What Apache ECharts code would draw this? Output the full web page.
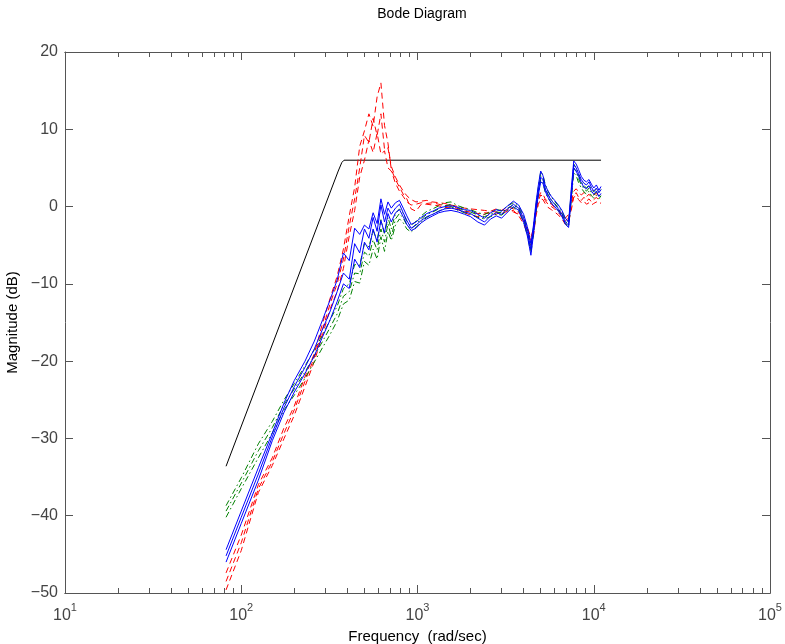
<!DOCTYPE html>
<html>
<head>
<meta charset="utf-8">
<title>Bode Diagram</title>
<script src="https://cdn.jsdelivr.net/npm/echarts@6/dist/echarts.min.js"></script>
<style>
  html, body { margin: 0; padding: 0; background: #fff; }
  #chart { width: 785px; height: 644px; }
</style>
</head>
<body>
<div id="chart"></div>
<script>
// frequency points (rad/sec) shared by all measured curves
var FREQ = [82, 100, 125, 150, 175, 200, 230, 260, 290, 320,
  350, 380, 410, 440, 470, 500, 530, 560, 590, 620,
  650, 680, 710, 750, 790, 830, 870, 920, 980, 1050,
  1130, 1220, 1320, 1430, 1550, 1700, 1850, 2000, 2200, 2400,
  2600, 2800, 3000, 3250, 3500, 3750, 4000, 4200, 4400, 4550,
  4700, 4850, 5000, 5150, 5300, 5500, 5750, 6000, 6300, 6600,
  6900, 7200, 7450, 7700, 7950, 8200, 8500, 8800, 9100, 9400,
  9700, 10000, 10350, 10700, 11000];

// red dashed curves (dB)
var RED_1 = [-49.6, -44.5, -37.0, -33.5, -30.0, -27.0, -23.3, -20.0, -16.5, -13.2,
  -11.0, -8.0, -3.8, -0.5, 3.8, 6.0, 8.6, 7.0, 9.5, 6.8,
  7.2, 5.0, 4.6, 3.0, 2.0, 1.3, 0.6, 0.2, 0.3, 0.5,
  0.4, 0.5, 0.3, 0.1, 0.2, -0.3, -0.6, -0.7, -0.9, -0.8,
  -0.9, -1.0, -0.6, -0.4, -0.7, -1.0, -1.8, -3.0, -4.5, -3.5,
  -0.8, 0.8, 1.5, 1.3, 0.8, 0.3, 0.0, -0.3, -0.8, -1.3,
  -1.8, -1.5, 0.0, 1.5, 1.8, 1.2, 0.8, 1.2, 0.7, 1.0,
  0.6, 0.9, 1.2, 0.8, 1.0];
var RED_2 = [-48.5, -43.5, -36.5, -33.0, -29.3, -26.3, -22.6, -19.5, -15.8, -12.5,
  -10.0, -6.8, -2.5, 1.0, 5.0, 9.2, 8.3, 11.4, 9.2, 12.0,
  7.4, 7.6, 5.2, 3.8, 2.8, 2.0, 1.4, 0.9, 0.6, 0.7,
  0.8, 0.6, 0.5, 0.4, 0.2, 0.0, -0.2, -0.3, -0.4, -0.5,
  -0.6, -0.3, -0.5, 0.0, -0.3, -0.8, -1.5, -2.7, -4.0, -2.8,
  -0.2, 1.2, 1.8, 1.6, 1.0, 0.6, 0.3, -0.1, -0.5, -0.9,
  -1.5, -1.0, 0.5, 2.0, 2.3, 1.9, 1.5, 1.8, 1.3, 1.6,
  1.2, 1.5, 1.7, 1.3, 1.5];
var RED_3 = [-47.4, -42.5, -36.0, -32.5, -28.6, -25.8, -22.0, -19.0, -15.0, -11.8,
  -9.0, -5.5, -1.2, 2.5, 7.8, 9.8, 12.0, 10.4, 14.2, 16.0,
  10.5, 8.2, 4.8, 3.5, 2.5, 1.6, 1.0, -0.3, -0.6, 0.3,
  0.3, 0.2, 0.1, -0.1, -0.2, -0.4, -0.8, -1.1, -1.3, -1.0,
  -0.6, -0.7, -0.9, -0.6, -0.5, -1.2, -2.2, -3.5, -5.0, -3.8,
  -1.2, 0.3, 1.0, 0.9, 0.4, -0.1, -0.4, -0.7, -1.1, -1.6,
  -2.3, -2.0, -0.5, 1.2, 1.4, 0.9, 0.5, 0.7, 0.3, 0.5,
  0.2, 0.4, 0.6, 0.3, 0.5];

// green dash-dot curves (dB)
var GREEN_1 = [-38.7, -35.1, -30.7, -27.8, -25.0, -22.9, -20.6, -18.5, -16.6, -14.6,
  -12.9, -10.6, -10.0, -7.5, -7.6, -4.8, -5.2, -3.1, -4.4, -1.7,
  -3.6, -1.4, -2.9, -0.9, -0.3, -0.9, -1.9, -2.5, -1.9, -1.2,
  -0.6, -0.3, 0.1, 0.5, 0.6, 0.1, -0.2, -0.4, -0.8, -1.0,
  -0.7, -0.4, -0.5, 0.1, 0.5, 0.0, -1.2, -2.9, -5.1, -2.7,
  0.2, 2.5, 4.5, 4.1, 2.9, 2.0, 1.2, 0.7, 0.1, -0.6,
  -1.6, -2.0, 1.8, 5.5, 5.0, 4.1, 3.2, 2.7, 2.4, 2.8,
  2.2, 1.9, 2.3, 1.8, 2.2];
var GREEN_2 = [-39.4, -35.8, -31.6, -28.6, -25.6, -23.6, -21.4, -19.3, -17.4, -15.6,
  -13.9, -11.6, -11.0, -8.6, -8.7, -5.9, -6.4, -4.3, -5.6, -2.9,
  -4.6, -2.2, -3.9, -1.6, -0.9, -1.5, -2.4, -2.9, -2.3, -1.6,
  -1.0, -0.7, -0.3, 0.1, 0.3, -0.2, -0.5, -0.7, -1.1, -1.3,
  -1.0, -0.7, -0.8, -0.2, 0.2, -0.3, -1.6, -3.3, -5.6, -3.2,
  -0.3, 2.0, 4.0, 3.6, 2.4, 1.6, 0.9, 0.4, -0.2, -0.9,
  -1.9, -2.3, 1.2, 5.0, 4.5, 3.6, 2.8, 2.3, 2.0, 2.4,
  1.8, 1.5, 1.9, 1.4, 1.8];
var GREEN_3 = [-40.2, -36.5, -32.5, -29.3, -26.3, -24.4, -22.2, -20.1, -18.2, -16.5,
  -14.8, -12.6, -12.1, -9.7, -9.9, -7.1, -7.6, -5.5, -6.8, -3.9,
  -5.8, -3.2, -4.4, -2.4, -1.6, -2.1, -2.9, -3.3, -2.7, -2.0,
  -1.4, -1.0, -0.6, -0.2, 0.0, -0.5, -0.8, -1.0, -1.4, -1.6,
  -1.3, -1.0, -1.1, -0.5, -0.1, -0.6, -2.0, -3.7, -6.0, -3.6,
  -0.8, 1.5, 3.5, 3.1, 1.9, 1.1, 0.5, 0.0, -0.5, -1.2,
  -2.2, -2.6, 0.7, 4.4, 4.0, 3.1, 2.4, 1.9, 1.6, 2.0,
  1.4, 1.1, 1.5, 1.0, 1.4];

// blue solid curves (dB)
var BLUE_1 = [-46.0, -41.0, -35.4, -30.3, -26.6, -24.0, -21.6, -19.3, -16.8, -14.6,
  -12.3, -10.0, -10.6, -6.8, -7.9, -4.6, -5.6, -2.9, -4.6, -1.8,
  -3.4, -0.9, -2.0, -0.8, -0.4, -1.3, -2.3, -3.1, -2.8, -2.1,
  -1.6, -1.2, -0.8, -0.6, -0.5, -0.7, -1.0, -1.3, -2.0, -2.4,
  -1.6, -1.2, -1.5, -0.7, 0.0, -0.5, -2.0, -3.8, -6.3, -3.6,
  -0.6, 1.5, 3.2, 3.0, 2.0, 1.2, 0.4, 0.0, -0.6, -1.3,
  -2.3, -2.7, 1.0, 5.0, 4.6, 3.9, 3.1, 2.5, 2.3, 2.7,
  2.0, 1.6, 2.0, 1.3, 1.7];
var BLUE_2 = [-45.2, -40.2, -34.6, -29.8, -26.0, -23.3, -20.8, -18.4, -15.8, -13.5,
  -11.0, -8.6, -9.4, -4.8, -6.0, -2.9, -4.1, -1.4, -3.2, 0.2,
  -2.0, -0.2, -1.0, -0.2, 0.3, -0.8, -1.8, -2.8, -2.4, -1.8,
  -1.3, -1.0, -0.6, -0.3, -0.2, -0.4, -0.7, -0.9, -1.5, -2.0,
  -1.2, -0.8, -1.0, -0.3, 0.3, -0.2, -1.5, -3.2, -5.5, -3.0,
  -0.2, 2.0, 3.8, 3.5, 2.3, 1.5, 0.8, 0.3, -0.3, -1.0,
  -2.0, -2.4, 1.5, 5.4, 5.0, 4.3, 3.5, 3.0, 2.8, 3.2,
  2.5, 2.0, 2.4, 1.8, 2.2];
var BLUE_3 = [-44.4, -39.4, -33.8, -29.3, -25.4, -22.5, -20.0, -17.4, -14.6, -12.0,
  -9.5, -6.0, -7.0, -2.8, -3.6, -2.4, -2.9, -0.8, -2.2, 1.0,
  -1.0, 0.6, -0.2, 0.5, 0.8, -0.2, -1.2, -2.3, -2.0, -1.4,
  -0.9, -0.6, -0.2, 0.0, 0.1, -0.1, -0.4, -0.5, -1.0, -1.5,
  -0.8, -0.4, -0.6, 0.1, 0.7, 0.2, -1.0, -2.6, -4.8, -2.4,
  0.5, 2.8, 4.6, 4.0, 2.8, 2.0, 1.3, 0.8, 0.2, -0.5,
  -1.5, -2.0, 2.2, 5.9, 5.5, 4.8, 3.9, 3.4, 3.2, 3.5,
  2.9, 2.4, 2.8, 2.1, 2.6];

// black asymptote
var BOUND_FREQ = [82, 355, 372, 383, 11000];
var BOUND_DB = [-33.6, 4.6, 5.7, 6.0, 6.0];

// minor tick values of the log axis
var MINOR_TICKS = [20, 30, 40, 50, 60, 70, 80, 90,
  200, 300, 400, 500, 600, 700, 800, 900,
  2000, 3000, 4000, 5000, 6000, 7000, 8000, 9000,
  20000, 30000, 40000, 50000, 60000, 70000, 80000, 90000];

var FONT = '"Liberation Sans", Arial, sans-serif';
var AXIS_COLOR = '#555';

function pairs(xs, ys) {
  return xs.map(function(x, i) { return [x, ys[i]]; });
}

function curve(name, ys, color, dash) {
  return {
    name: name,
    type: 'line',
    data: pairs(FREQ, ys),
    showSymbol: false,
    symbol: 'none',
    silent: true,
    lineStyle: { color: color, width: 1, type: dash }
  };
}

function logAxis(position, showLabels, ticks, tickLength) {
  var axis = {
    type: 'log',
    logBase: 10,
    min: 10,
    max: 100000,
    position: position,
    axisLine: { show: true, onZero: false, lineStyle: { color: AXIS_COLOR, width: 1 } },
    axisTick: { show: true, inside: true, length: tickLength, lineStyle: { color: AXIS_COLOR } },
    splitLine: { show: false },
    axisLabel: { show: false }
  };
  if (ticks) {
    axis.axisTick.customValues = ticks;
  }
  if (showLabels) {
    axis.axisLabel = {
      show: true,
      margin: 9,
      formatter: function(v) {
        return '{b|10}{e|' + Math.round(Math.log10(v)) + '}';
      },
      rich: {
        b: { fontFamily: FONT, fontSize: 16, color: '#444', verticalAlign: 'bottom', padding: [6, 0, 0, 0] },
        e: { fontFamily: FONT, fontSize: 11, color: '#444', verticalAlign: 'top', padding: [0, 0, 6, 0] }
      }
    };
    axis.name = 'Frequency  (rad/sec)';
    axis.nameLocation = 'middle';
    axis.nameGap = 33;
    axis.nameTextStyle = { fontFamily: FONT, fontSize: 15, color: '#000' };
  }
  return axis;
}

var chart = echarts.init(document.getElementById('chart'), null, { renderer: 'canvas' });

chart.setOption({
  animation: false,
  backgroundColor: '#fff',
  title: {
    text: 'Bode Diagram',
    left: 417,
    textAlign: 'center',
    top: 2,
    textStyle: { fontFamily: FONT, fontSize: 14, fontWeight: 'normal', color: '#000' }
  },
  grid: { left: 65, right: 15, top: 52, bottom: 51, containLabel: false, outerBoundsMode: 'none' },
  xAxis: [
    logAxis('bottom', true, null, 8),
    logAxis('bottom', false, MINOR_TICKS, 5),
    logAxis('top', false, null, 8),
    logAxis('top', false, MINOR_TICKS, 5)
  ],
  yAxis: [{
    type: 'value',
    min: -50,
    max: 20,
    interval: 10,
    position: 'left',
    axisLine: { show: true, onZero: false, lineStyle: { color: AXIS_COLOR } },
    axisTick: { show: true, inside: true, length: 8, lineStyle: { color: AXIS_COLOR } },
    splitLine: { show: false },
    axisLabel: {
      margin: 7,
      fontFamily: FONT,
      fontSize: 16,
      color: '#444',
      formatter: function(v) { return v < 0 ? '\u2212' + Math.abs(v) : String(v); }
    },
    name: 'Magnitude (dB)',
    nameLocation: 'middle',
    nameGap: 41,
    nameTextStyle: { fontFamily: FONT, fontSize: 15, color: '#000' }
  }, {
    type: 'value',
    min: -50,
    max: 20,
    interval: 10,
    position: 'right',
    axisLine: { show: true, onZero: false, lineStyle: { color: AXIS_COLOR } },
    axisTick: { show: true, inside: true, length: 8, lineStyle: { color: AXIS_COLOR } },
    splitLine: { show: false },
    axisLabel: { show: false }
  }],
  series: [
    {
      name: 'bound',
      type: 'line',
      data: pairs(BOUND_FREQ, BOUND_DB),
      showSymbol: false,
      symbol: 'none',
      silent: true,
      lineStyle: { color: '#000', width: 1 }
    },
    curve('red 1', RED_1, '#ff0000', [6, 4]),
    curve('red 2', RED_2, '#ff0000', [6, 4]),
    curve('red 3', RED_3, '#ff0000', [6, 4]),
    curve('green 1', GREEN_1, '#008000', [6, 3, 1.5, 3]),
    curve('green 2', GREEN_2, '#008000', [6, 3, 1.5, 3]),
    curve('green 3', GREEN_3, '#008000', [6, 3, 1.5, 3]),
    curve('blue 1', BLUE_1, '#0000ff', 'solid'),
    curve('blue 2', BLUE_2, '#0000ff', 'solid'),
    curve('blue 3', BLUE_3, '#0000ff', 'solid')
  ]
});
</script>
</body>
</html>
